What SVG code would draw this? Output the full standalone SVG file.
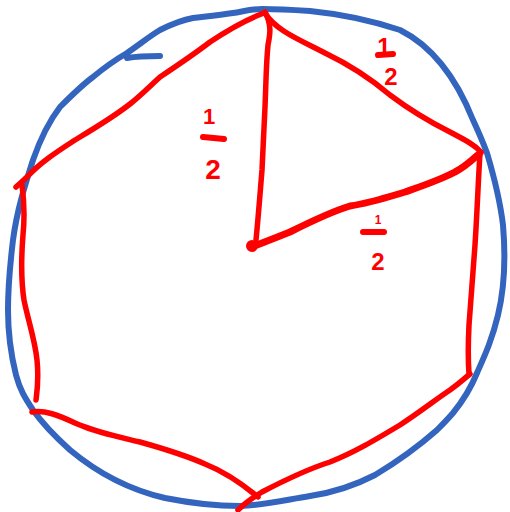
<svg xmlns="http://www.w3.org/2000/svg" width="510" height="512" viewBox="0 0 510 512">
<style>
.blue{fill:none;stroke:#3465BE;stroke-width:6;stroke-linecap:round;stroke-linejoin:round}
.red{fill:none;stroke:#FF0000;stroke-width:5.5;stroke-linecap:round;stroke-linejoin:round}
.lbl{fill:#FF0000;font-family:"Liberation Sans",Arial,sans-serif;font-weight:bold;text-anchor:middle}
.bar{stroke:#FF0000;stroke-width:6;stroke-linecap:round}
</style>
<rect width="510" height="512" fill="#FFFFFF"/>
<g id="circle">
<path class="blue" d="M160,56 C145,56 133,57 127,58 M60,107 C72,95 82,85 93,77 C105,67 115,60 127,53 C140,44 150,36 160,30 C172,24 182,20 193,18 C210,16 220,15 233,13 C245,11 252,9 262,9 C280,9 295,10 310,11 C340,14 370,20 400,30 C430,45 455,75 473,120 C480,135 484,145 487,153 C495,180 500,200 503,225 C506,260 504,290 498,315 C492,340 485,355 477,373 C470,390 462,402 453,413 C447,420 442,425 437,430 C420,445 400,460 375,475 C350,488 330,493 310,496 C285,500 265,505 240,506 C215,506 190,503 165,498 C130,490 100,475 70,450 C50,432 40,420 33,410 C25,398 20,390 16,375 C11,355 8,335 8,310 C8,285 10,265 13,240 C17,210 25,185 33,160 C40,140 50,120 60,107 Z"/>
</g>
<g id="hexagon">
<path class="red" d="M265,13 C275,30 300,40 325,53 C350,65 370,78 390,95 C410,110 430,122 450,132 C465,140 475,145 481,152"/>
<path class="red" d="M264,13 C245,20 228,30 210,42 C193,55 178,65 160,77 C148,88 140,96 130,104 C112,118 95,128 75,140 C55,153 40,163 28,176 C22,182 18,185 16,187"/>
<path class="red" d="M22,185 C24,200 25,215 23,235 C21,260 21,280 24,300 C28,320 35,340 37,360 C39,380 37,392 36,400"/>
<path class="red" d="M32,412 C45,410 58,415 75,423 C95,432 115,436 140,442 C165,449 185,455 205,464 C225,472 240,482 258,497"/>
<path class="red" d="M238,510 C245,503 252,498 262,492 C285,480 305,470 330,462 C355,452 375,440 400,425 C420,412 435,400 450,390 C460,383 465,378 470,374"/>
<path class="red" d="M469,374 C468,360 468,345 469,325 C471,300 473,275 475,245 C477,215 478,185 480,153"/>
</g>
<g id="radii">
<path class="red" d="M265,12 C272,25 270,35 268,45 C266,65 266,85 265,107 C264,130 263,150 262,170 C260,195 258,220 256,240"/>
<path class="red" style="stroke-width:7" d="M254,246 C265,242 275,238 290,232 C310,222 330,212 350,206 C370,203 385,198 405,192 C425,185 440,180 455,172 C465,167 470,162 480,153"/>
<ellipse cx="252" cy="246" rx="6" ry="6" fill="#FF0000"/>
</g>
<g id="label-left">
<text class="lbl" x="209" y="124" font-size="22">1</text>
<line class="bar" x1="203" y1="137" x2="224" y2="139"/>
<text class="lbl" x="213" y="179" font-size="28">2</text>
</g>
<g id="label-top-right">
<text class="lbl" x="384" y="55" font-size="24">1</text>
<line class="bar" x1="378" y1="55" x2="393" y2="54"/>
<text class="lbl" x="391" y="85" font-size="24">2</text>
</g>
<g id="label-right">
<text class="lbl" x="378" y="224" font-size="12">1</text>
<line class="bar" x1="363" y1="232" x2="384" y2="232"/>
<text class="lbl" x="378" y="270" font-size="24">2</text>
</g>
</svg>
